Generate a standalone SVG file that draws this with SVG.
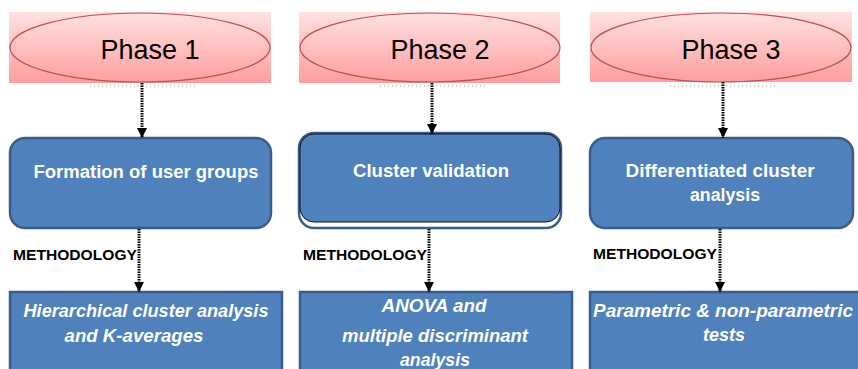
<svg xmlns="http://www.w3.org/2000/svg" width="858" height="369" viewBox="0 0 858 369">
<defs>
<linearGradient id="pink" x1="0" y1="0" x2="0" y2="1">
<stop offset="0" stop-color="#FFE2E2"/>
<stop offset="1" stop-color="#FF9E9E"/>
</linearGradient>
<marker id="ah" viewBox="0 0 10 10" refX="10" refY="5" markerWidth="10" markerHeight="10" markerUnits="userSpaceOnUse" orient="auto">
<path d="M0,0 L10,5 L0,10 Z" fill="#000"/>
</marker>
<style>
.bg{fill:url(#pink);}
.ell{fill:none;stroke:#C0504D;stroke-width:1.2;}
.ph{font-family:"Liberation Sans",Arial,sans-serif;font-size:27px;fill:#000;text-anchor:middle;}
.box{fill:#4F81BD;stroke:#385D8A;stroke-width:2.5;}
.t{font-family:"Liberation Sans",Arial,sans-serif;font-weight:bold;font-size:18px;fill:#fff;text-anchor:middle;}
.ti{font-family:"Liberation Sans",Arial,sans-serif;font-weight:bold;font-style:italic;font-size:18px;fill:#fff;text-anchor:middle;}
.m{font-family:"Liberation Sans",Arial,sans-serif;font-weight:bold;font-size:14px;fill:#000;}
.c{stroke:#000;stroke-width:3;stroke-dasharray:1.5 1;fill:none;marker-end:url(#ah);}
.faint{stroke:#999;stroke-width:1;stroke-dasharray:1 3;fill:none;}
</style>
</defs>

<g id="phase1">
<rect class="bg" x="9" y="12" width="262" height="71"/>
<ellipse class="ell" cx="140" cy="47.5" rx="130" ry="34.5"/>
<text class="ph" x="150" y="59">Phase 1</text>
<line class="faint" x1="90" y1="86" x2="196" y2="86"/>
</g>
<g id="phase2">
<rect class="bg" x="299" y="12" width="261" height="71"/>
<ellipse class="ell" cx="430" cy="47.5" rx="130" ry="34.5"/>
<text class="ph" x="440" y="59">Phase 2</text>
<line class="faint" x1="380" y1="86" x2="486" y2="86"/>
</g>
<g id="phase3">
<rect class="bg" x="590" y="12" width="262" height="70"/>
<ellipse class="ell" cx="721" cy="47.5" rx="130" ry="34.5"/>
<text class="ph" x="731" y="59">Phase 3</text>
<line class="faint" x1="670" y1="86" x2="776" y2="86"/>
</g>

<g id="box1">
<rect class="box" x="10" y="138" width="261" height="90" rx="15"/>
<text class="t" x="146" y="178" textLength="225" lengthAdjust="spacingAndGlyphs">Formation of user groups</text>
</g>
<g id="box2">
<rect x="299" y="133" width="262" height="95" rx="15" fill="#fff" stroke="#385D8A" stroke-width="2.5"/>
<rect x="300" y="134" width="260" height="88" rx="14" fill="#4F81BD" stroke="#111" stroke-width="1"/>
<text class="t" x="431" y="177" textLength="156" lengthAdjust="spacingAndGlyphs">Cluster validation</text>
</g>
<g id="box3">
<rect class="box" x="590" y="138" width="263" height="90" rx="15"/>
<text class="t" x="720" y="177" textLength="189" lengthAdjust="spacingAndGlyphs">Differentiated cluster</text>
<text class="t" x="725" y="201" textLength="70" lengthAdjust="spacingAndGlyphs">analysis</text>
</g>

<g id="method1">
<rect class="box" x="10" y="292" width="272" height="90"/>
<text class="ti" x="146" y="317" textLength="245" lengthAdjust="spacingAndGlyphs">Hierarchical cluster analysis</text>
<text class="ti" x="134" y="342" textLength="139" lengthAdjust="spacingAndGlyphs">and K-averages</text>
</g>
<g id="method2">
<rect class="box" x="300" y="292" width="272" height="90"/>
<text class="ti" x="434" y="312" textLength="105" lengthAdjust="spacingAndGlyphs">ANOVA and</text>
<text class="ti" x="435" y="342" textLength="186" lengthAdjust="spacingAndGlyphs">multiple discriminant</text>
<text class="ti" x="435" y="366" textLength="70" lengthAdjust="spacingAndGlyphs">analysis</text>
</g>
<g id="method3">
<rect class="box" x="590" y="292" width="272" height="90"/>
<text class="ti" x="723" y="317" textLength="260" lengthAdjust="spacingAndGlyphs">Parametric &amp; non-parametric</text>
<text class="ti" x="724" y="341" textLength="42" lengthAdjust="spacingAndGlyphs">tests</text>
</g>

<g id="connectors">
<line class="c" x1="142" y1="83" x2="142" y2="138"/>
<line class="c" x1="432" y1="83" x2="432" y2="134"/>
<line class="c" x1="723" y1="82" x2="723" y2="138"/>
<line class="c" x1="139" y1="229" x2="139" y2="292"/>
<line class="c" x1="429" y1="229" x2="429" y2="292"/>
<line class="c" x1="720" y1="229" x2="720" y2="292"/>
<text class="m" x="13" y="260" textLength="124" lengthAdjust="spacingAndGlyphs">METHODOLOGY</text>
<text class="m" x="303" y="260" textLength="124" lengthAdjust="spacingAndGlyphs">METHODOLOGY</text>
<text class="m" x="593" y="259" textLength="124" lengthAdjust="spacingAndGlyphs">METHODOLOGY</text>
</g>
</svg>
